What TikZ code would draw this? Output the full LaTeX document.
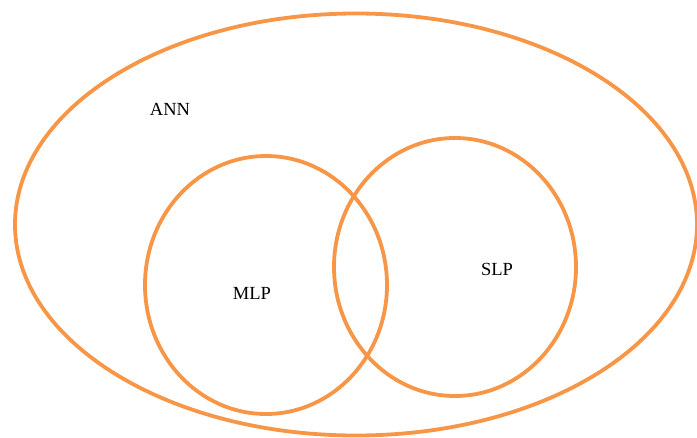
\documentclass[tikz,border=0pt]{standalone}
\usepackage{fontspec}
\setmainfont{Liberation Serif}
\definecolor{setorange}{HTML}{F79646}
\begin{document}
\begin{tikzpicture}[x=1pt,y=-1pt,
  setline/.style={draw=setorange,line width=3.8pt},
  lbl/.style={font=\fontsize{18.5}{22}\selectfont,inner sep=0pt}]
\useasboundingbox (0,0) rectangle (697,437);
% outer set and the two overlapping subsets
\draw[setline] (356,224.5) ellipse [x radius=341,y radius=211];
\draw[setline] (266,285) ellipse [x radius=121,y radius=129];
\draw[setline] (455,267) ellipse [x radius=121,y radius=129];
% labels
\node[lbl] (ann) at (170,109) {ANN};
\node[lbl] (mlp) at (252,293) {MLP};
\node[lbl] (slp) at (497,269) {SLP};
\end{tikzpicture}
\end{document}
